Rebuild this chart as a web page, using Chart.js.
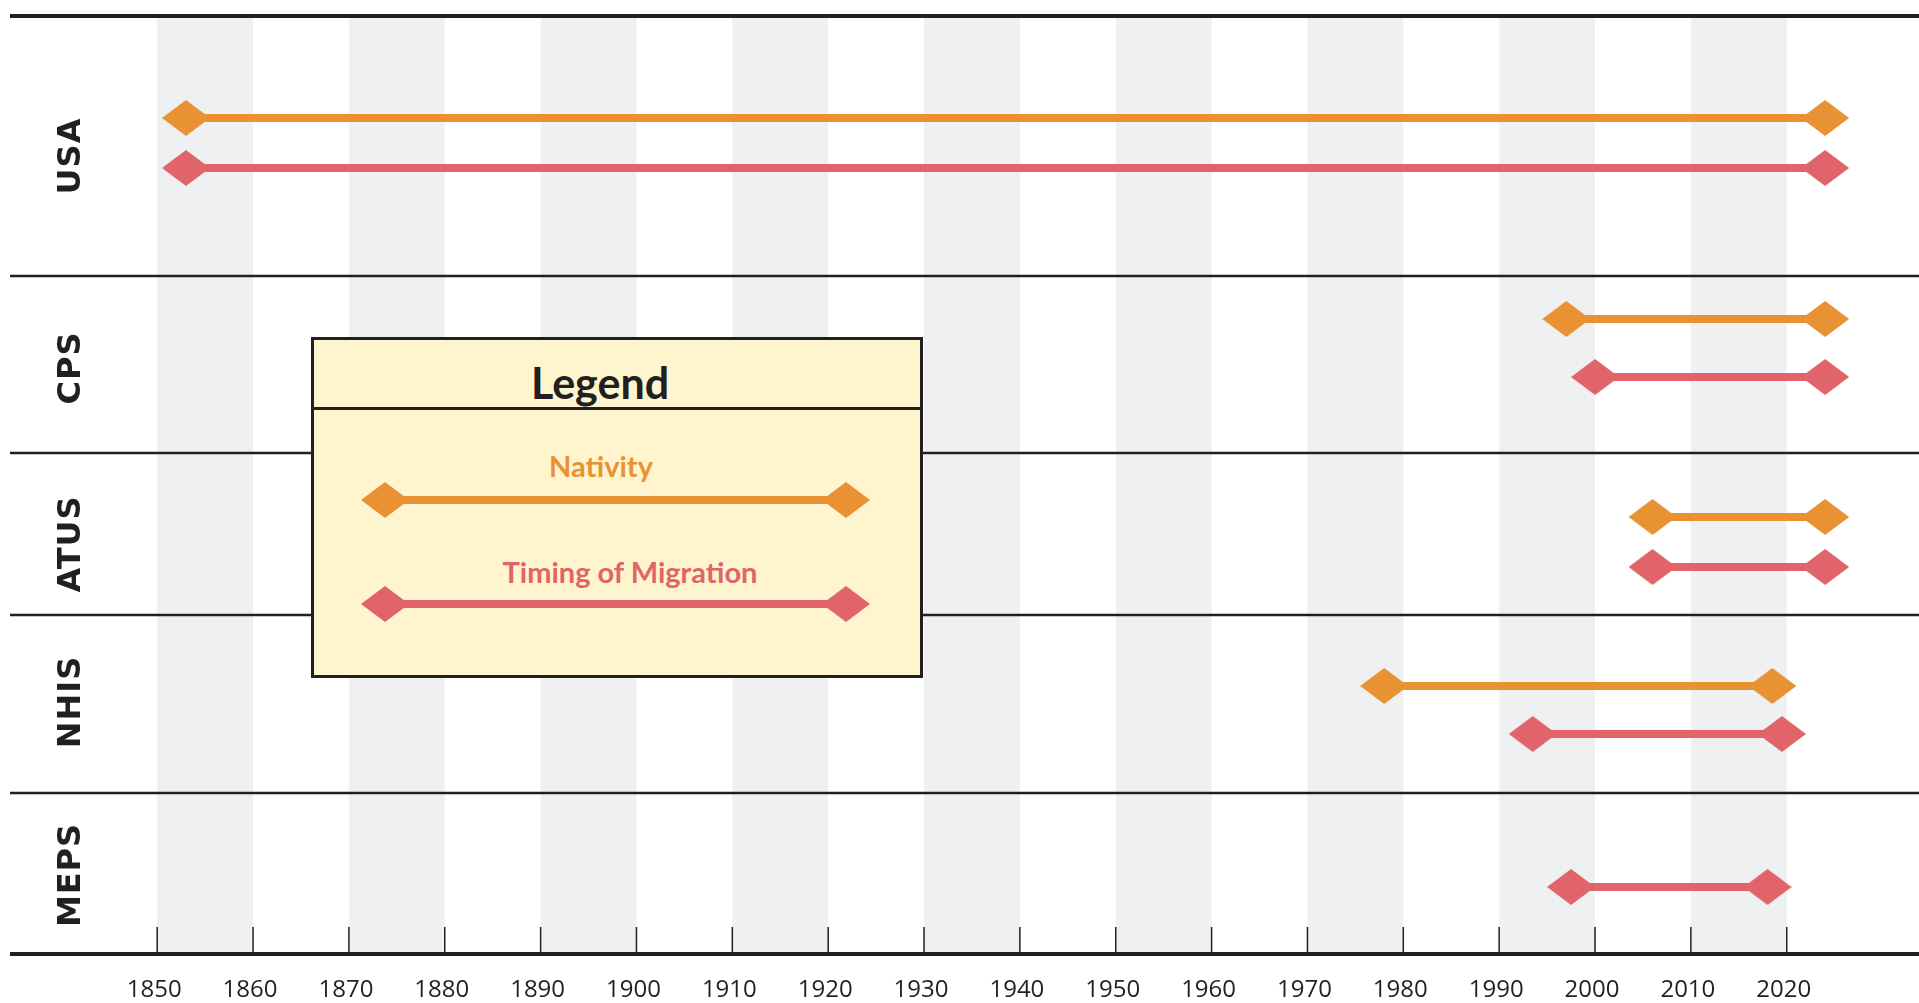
<!DOCTYPE html>
<html>
<head>
<meta charset="utf-8">
<title>Survey coverage timeline</title>
<script src="https://cdn.jsdelivr.net/npm/chart.js@4.4.1/dist/chart.umd.min.js"></script>
<style>
    body { margin: 0; background: #ffffff; }
    #wrap { position: relative; width: 1919px; height: 1003px; }
    #legendBox {
        position: absolute; left: 311px; top: 337px; width: 612px; height: 341px;
        box-sizing: border-box; border: 3px solid #231f20; background: #fef4cd;
        font-family: Lato, "Open Sans", sans-serif; font-weight: 700;
    }
    #legendHead { position: absolute; left: 0; top: 0; width: 100%; height: 67px; border-bottom: 3px solid #231f20; }
    .lgText { position: absolute; line-height: 1; white-space: nowrap; transform: translateX(-50%); }
    .lgLine { position: absolute; height: 8px; }
    .lgDiamond { position: absolute; width: 48px; height: 36px; clip-path: polygon(50% 0, 100% 50%, 50% 100%, 0 50%); }
</style>
</head>
<body>
<div id="wrap">
    <canvas id="timelineChart" width="1919" height="1003"></canvas>
    <div id="legendBox">
        <div id="legendHead"></div>
        <span class="lgText" style="left:286px; top:21px; font-size:43px; color:#231f20;">Legend</span>
        <span class="lgText" id="lgNat" style="left:287px; top:111px; font-size:29px;">Nativity</span>
        <div class="lgLine" id="lgNatLine" style="left:71px; width:461px; top:156px;"></div>
        <div class="lgDiamond" id="lgNatA" style="left:47px; top:142px;"></div>
        <div class="lgDiamond" id="lgNatB" style="left:508px; top:142px;"></div>
        <span class="lgText" id="lgTim" style="left:316px; top:217px; font-size:29px;">Timing of Migration</span>
        <div class="lgLine" id="lgTimLine" style="left:71px; width:461px; top:260px;"></div>
        <div class="lgDiamond" id="lgTimA" style="left:47px; top:246px;"></div>
        <div class="lgDiamond" id="lgTimB" style="left:508px; top:246px;"></div>
    </div>
</div>
<script>
// surveys (rows, top to bottom) and the years each one covers
const surveys = ["USA", "CPS", "ATUS", "NHIS", "MEPS"];
const nativityFrom = [1853, 1997, 2006, 1978, null];
const nativityTo = [2024, 2024, 2024, 2018.5, null];
const timingFrom = [1853, 2000, 2006, 1993.5, 1997.5];
const timingTo = [2024, 2024, 2024, 2019.5, 2018];
const yearTicks = [1850, 1860, 1870, 1880, 1890, 1900, 1910, 1920, 1930,
    1940, 1950, 1960, 1970, 1980, 1990, 2000, 2010, 2020];
const shadedDecades = [1850, 1870, 1890, 1910, 1930, 1950, 1970, 1990, 2010];

// row layout (y units = px inside the plot area)
const rowHeights = [260, 177, 162, 178, 161];
const nativityLane = [102, 43, 64, 71, null];
const timingLane = [152, 101, 114, 119, 94];
const labelLane = [140, 92, 91, 87, 82];

const ORANGE = "#e89234";
const RED = "#e0646a";
const INK = "#231f20";

const rowTops = rowHeights.map((h, i) => rowHeights.slice(0, i).reduce((a, b) => a + b, 0));
const totalHeight = rowHeights.reduce((a, b) => a + b, 0);

function diamond(color) {
    const c = document.createElement("canvas");
    c.width = 48;
    c.height = 36;
    const g = c.getContext("2d");
    g.fillStyle = color;
    g.beginPath();
    g.moveTo(24, 0);
    g.lineTo(48, 18);
    g.lineTo(24, 36);
    g.lineTo(0, 18);
    g.closePath();
    g.fill();
    return c;
}
const orangeDiamond = diamond(ORANGE);
const redDiamond = diamond(RED);

// legend colours
document.getElementById("lgNat").style.color = ORANGE;
document.getElementById("lgTim").style.color = RED;
["lgNatLine", "lgNatA", "lgNatB"].forEach(id => document.getElementById(id).style.background = ORANGE);
["lgTimLine", "lgTimA", "lgTimB"].forEach(id => document.getElementById(id).style.background = RED);

function segment(label, from, to, y, color, marker) {
    return {
        label: label,
        data: [{ x: from, y: y }, { x: to, y: y }],
        borderColor: color,
        borderWidth: 8,
        borderCapStyle: "butt",
        pointStyle: marker,
        pointRadius: 18,
        clip: false,
    };
}

const datasets = [];
surveys.forEach((s, i) => {
    if (nativityFrom[i] !== null) {
        datasets.push(segment("Nativity", nativityFrom[i], nativityTo[i],
            rowTops[i] + nativityLane[i], ORANGE, orangeDiamond));
    }
    if (timingFrom[i] !== null) {
        datasets.push(segment("Timing of Migration", timingFrom[i], timingTo[i],
            rowTops[i] + timingLane[i], RED, redDiamond));
    }
});

// bands, rules, ticks and row names
const decor = {
    id: "decor",
    beforeDatasetsDraw(chart) {
        const { ctx, chartArea: a, scales: { x, y } } = chart;
        ctx.save();

        ctx.fillStyle = "#eff0f2";
        shadedDecades.forEach(d => {
            const l = x.getPixelForValue(d);
            const r = x.getPixelForValue(d + 10);
            ctx.fillRect(l, a.top, r - l, a.bottom - a.top);
        });

        ctx.strokeStyle = INK;
        const rule = (py, w) => {
            ctx.lineWidth = w;
            ctx.beginPath();
            ctx.moveTo(10, py);
            ctx.lineTo(chart.width, py);
            ctx.stroke();
        };
        rowTops.slice(1).forEach(t => rule(y.getPixelForValue(t), 2.5));
        rule(y.getPixelForValue(0), 4);
        rule(y.getPixelForValue(totalHeight), 4);

        ctx.lineWidth = 1.5;
        ctx.fillStyle = INK;
        ctx.font = "24px 'Open Sans'";
        ctx.textAlign = "center";
        ctx.textBaseline = "middle";
        yearTicks.forEach(t => {
            const px = x.getPixelForValue(t);
            ctx.beginPath();
            ctx.moveTo(px, a.bottom);
            ctx.lineTo(px, a.bottom - 27);
            ctx.stroke();
            ctx.fillText(String(t), px - 3, a.bottom + 36);
        });

        ctx.font = "bold 32px 'DejaVu Sans'";
        ctx.letterSpacing = "1px";
        surveys.forEach((s, i) => {
            ctx.save();
            ctx.translate(72, y.getPixelForValue(rowTops[i] + labelLane[i]));
            ctx.rotate(-Math.PI / 2);
            ctx.fillText(s, 0, 0);
            ctx.restore();
        });

        ctx.restore();
    },
};

new Chart(document.getElementById("timelineChart"), {
    type: "line",
    data: { datasets: datasets },
    options: {
        responsive: false,
        devicePixelRatio: 1,
        animation: false,
        events: [],
        layout: { autoPadding: false, padding: { top: 16, bottom: 49, left: 0, right: 0 } },
        scales: {
            x: { type: "linear", min: 1833.6, max: 2033.8, display: false },
            y: { type: "linear", min: 0, max: totalHeight, reverse: true, display: false },
        },
        plugins: { legend: { display: false }, tooltip: { enabled: false } },
    },
    plugins: [decor],
});
</script>
</body>
</html>
